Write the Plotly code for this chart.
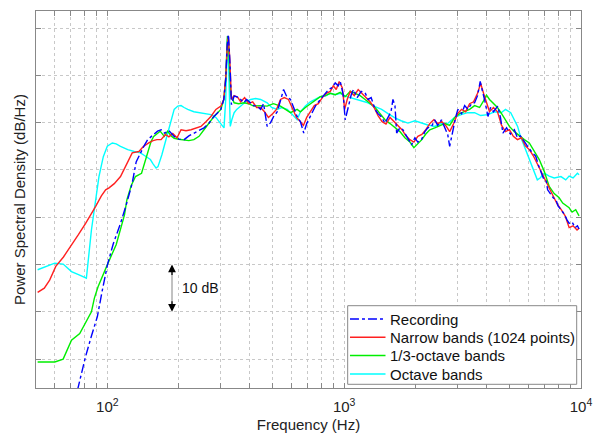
import plotly.graph_objects as go
import math

# ---------------- data (frequency in Hz, PSD in dB/Hz) ----------------
rec_f = [74.8, 80.9, 85.7, 90.8, 95.3, 100.3, 106, 113.7, 120.2, 127.4, 132.4, 138, 143, 148, 153.1,
         163, 168.7, 174.2, 182, 191.5, 200.5, 211, 221, 232, 244, 256, 268, 282, 292.6, 301.6,
         310.3, 316.2, 320.8, 324.6, 329, 334.3, 343.2, 351.9, 365.8, 376.5, 387.5, 402.9, 414.9,
         430, 443.9, 457, 473, 489, 504, 522, 538.7, 555, 570, 593.5, 612, 633, 653.8, 675, 695,
         720, 756, 793, 825, 860, 890, 917, 944, 963, 991, 1010, 1040, 1071, 1095, 1135, 1180,
         1226, 1262, 1300, 1351, 1390, 1432, 1488, 1532, 1577, 1607, 1639, 1666, 1720, 1771, 1805,
         1858, 1925, 1989, 2047, 2120, 2191, 2255, 2340, 2413, 2484, 2575, 2659, 2737, 2790, 2871,
         2955, 3021, 3133, 3226, 3332, 3452, 3554, 3658, 3754, 3838, 3915, 4048, 4150, 4270, 4450,
         4570, 4680, 4850, 5035, 5233, 5390, 5550, 5764, 5950, 6170, 6440, 6600, 6780, 6930, 7120,
         7230, 7420, 7630, 7840, 8000, 8230, 8490, 8740, 8910, 9170, 9450, 9660, 9813]
rec_db = [-86.6, -79.5, -75.1, -71.0, -65.4, -59.9, -55.6, -51.3, -47.4, -42.8, -38.3, -36.4, -34.9, -33.6, -33.0,
          -31.8, -31.5, -32.2, -31.7, -32.9, -33.5, -33.6, -32.8, -32.2, -31.7, -31.1, -30.2, -28.7, -27.9, -27.2,
          -25.1, -20.9, -13.5, -11.4, -16.7, -26.2, -24.4, -24.5, -25.1, -25.8, -25.1, -25.8, -26.4,
          -26.5, -27.2, -26.0, -30.8, -30.0, -28.7, -27.7, -25.1, -23.0, -24.3, -25.1, -26.8, -28.7, -29.8, -32.2, -30.2,
          -28.5, -26.5, -25.1, -24.0, -23.0, -22.6, -21.6, -22.2, -21.3, -24.1, -29.4, -26.8, -24.1, -23.0, -24.7, -23.4,
          -23.7, -25.1, -24.7, -27.2, -28.1, -28.7, -30.1, -28.9, -27.7, -25.1, -26.4, -32.2, -31.1, -31.5, -32.2,
          -33.2, -34.7, -33.2, -34.1, -33.6, -31.9, -31.1, -30.8, -29.4, -30.6, -29.4, -31.1, -32.5, -35.0, -31.9,
          -28.9, -27.2, -28.1, -26.4, -27.2, -26.0, -25.8, -24.3, -21.3, -23.4, -25.1, -28.7, -26.8, -27.7, -26.5,
          -28.9, -32.2, -31.1, -32.4, -31.5, -33.2, -32.8, -34.1, -35.0, -36.1, -37.1, -38.9, -40.7, -41.7, -42.1,
          -44.2, -45.0, -45.9, -46.3, -47.6, -48.4, -49.3, -50.6, -51.3, -51.0, -52.2, -51.8, -52.5]

nb_f = [50.8, 54.2, 57.1, 60.6, 65.3, 70.1, 75.5, 81, 85.7, 89.3, 94.4, 98.4, 101.7, 107, 113.7, 119,
        127.4, 136, 141.6, 149.6, 156, 162, 168.7, 176, 182, 189, 197, 204.8, 215, 225.6, 236.8, 248.5,
        260.8, 273.8, 287.4, 301.6, 310.3, 316.2, 321.5, 324.6, 329, 334.3, 343.2, 356, 365.8, 380, 395,
        411, 427, 443.9, 461, 479, 499, 518, 538.7, 559, 582, 605, 629, 653.8, 673, 695, 720, 748, 778,
        809, 841, 874, 900, 926, 953, 982, 1005, 1030, 1061, 1103, 1146, 1191, 1238, 1287, 1338, 1390,
        1446, 1502, 1562, 1623, 1687, 1754, 1823, 1895, 1970, 2047, 2128, 2212, 2299, 2390, 2484, 2582,
        2684, 2790, 2900, 3012, 3133, 3258, 3386, 3519, 3658, 3770, 3877, 3990, 4109, 4270, 4440, 4620,
        4800, 4986, 5180, 5390, 5600, 5820, 6050, 6290, 6530, 6800, 7070, 7341, 7630, 7930, 8250, 8570,
        8910, 9260, 9620, 9813]
nb_db = [-65.9, -65.0, -63.3, -60.4, -58.4, -56.2, -53.7, -51.3, -49.3, -47.7, -45.5, -44.2, -43.8, -42.9, -41.4, -39.5,
         -36.4, -36.1, -35.1, -34.3, -33.8, -33.6, -33.6, -32.5, -33.0, -32.3, -33.2, -31.5, -31.7, -31.5, -31.1, -30.8,
         -29.8, -28.7, -27.2, -26.5, -25.1, -20.5, -13.5, -11.8, -16.7, -25.1, -24.3, -24.7, -25.6, -24.7, -26.0,
         -25.6, -26.8, -26.8, -27.7, -28.9, -28.1, -27.2, -25.1, -24.7, -25.1, -27.2, -28.9, -29.8, -30.6, -28.9, -27.7, -26.4, -26.0,
         -24.7, -23.8, -23.4, -22.2, -23.0, -21.3, -22.6, -27.2, -25.1, -23.4, -24.3, -23.0, -23.8, -24.7, -25.6, -26.8, -28.5,
         -29.8, -30.3, -28.9, -29.8, -30.6, -31.5, -32.8, -33.6, -34.1, -32.9, -32.5, -31.5, -30.2, -29.4, -30.2, -29.8,
         -30.6, -31.9, -30.2, -28.1, -27.2, -27.7, -26.0, -25.6, -23.8, -21.7, -23.8, -26.0, -27.7, -26.8, -27.7, -30.6,
         -31.9, -31.5, -32.9, -33.6, -33.2, -34.9, -35.7, -37.0, -38.7, -40.3, -42.1, -43.8, -45.5, -47.2, -48.4, -49.7,
         -52.2, -51.8, -52.7, -52.3]

third_f = [50.8, 55.5, 60, 65.1, 67.3, 70.6, 76.5, 81.6, 85.7, 88.2, 91.4, 100.7, 109, 118.2, 121, 126.2,
           131.5, 139.5, 147.3, 153, 157, 163, 167.2, 174, 179.7, 185.9, 191.6, 200.5, 211, 221, 232, 244,
           256, 268, 282, 301.6, 310.3, 316.2, 321.5, 325.6, 332, 343.2, 358.6, 378, 395, 415, 443.9, 473,
           503, 538.7, 565, 593.5, 633, 653.8, 686, 720, 756, 793, 833, 874, 917, 963, 1010, 1061, 1113,
           1168, 1226, 1287, 1351, 1418, 1488, 1562, 1639, 1720, 1805, 1895, 1970, 2047, 2128, 2212, 2299,
           2413, 2533, 2659, 2790, 2929, 3074, 3226, 3386, 3554, 3730, 3877, 3990, 4109, 4270, 4440, 4620,
           4800, 4986, 5233, 5492, 5764, 6050, 6350, 6664, 6995, 7341, 7705, 8087, 8370, 8650, 8909, 9170,
           9500, 9813]
third_db = [-80.6, -80.6, -80.6, -80.0, -78.5, -76.0, -74.6, -72.1, -70.0, -67.1, -64.7, -59.7, -55.8, -49.5, -46.3, -43.3,
            -41.4, -40.7, -36.4, -34.0, -32.9, -32.2, -31.8, -32.9, -31.8, -32.8, -33.3, -33.5, -33.6, -33.8, -33.6, -32.9,
            -31.5, -30.2, -28.7, -27.2, -25.1, -20.5, -11.7, -14.4, -24.1, -25.8, -26.0, -25.8, -26.0, -26.5, -26.4, -26.5,
            -26.0, -26.5, -27.2, -27.9, -27.2, -27.7, -26.8, -26.0, -25.1, -24.5, -24.3, -23.8, -24.1, -23.6, -24.5, -23.4, -23.8,
            -24.3, -25.1, -26.0, -26.8, -28.1, -29.4, -30.2, -31.1, -31.9, -33.2, -34.1, -35.3, -34.5, -33.6, -32.4, -31.5,
            -31.1, -30.6, -30.2, -30.6, -28.9, -28.1, -27.7, -27.2, -26.4, -26.8, -25.4, -24.2, -25.1, -26.0, -26.8, -28.1,
            -29.4, -30.8, -31.9, -32.8, -33.6, -34.3, -36.1, -37.8, -40.3, -43.5, -45.0, -45.9, -47.0, -47.6, -48.0, -48.9,
            -48.4, -49.7]

oct_f = [50.8, 55.5, 60, 65.1, 70.6, 76, 81.6, 85.7, 88.4, 92.2, 96.2, 100, 105, 109, 113.7, 122, 130, 138,
         144, 152, 156, 160.7, 163.7, 170, 180, 185.9, 191.6, 198.5, 204.8, 211, 218.5, 232, 248.5, 260.8,
         273.8, 287.4, 301.6, 311, 316.2, 321.5, 325.6, 330.5, 335.6, 343.2, 351.9, 365.8, 383.9, 402.9, 423,
         443.9, 473, 494, 522, 545, 575, 600, 633, 653.8, 686, 720, 756, 793, 833, 874, 917, 963, 1010, 1061,
         1113, 1168, 1260, 1351, 1440, 1532, 1639, 1740, 1860, 1989, 2120, 2255, 2413, 2560, 2750, 2929, 3120,
         3320, 3554, 3770, 4048, 4312, 4600, 4800, 5050, 5233, 5400, 5550, 5764, 5930, 6200, 6350, 6540, 6720,
         6995, 7341, 7705, 8230, 8620, 8909, 9260, 9660, 9813]
oct_db = [-61.1, -60.3, -59.7, -59.9, -61.5, -62.2, -62.9, -52.7, -47.4, -41.4, -37.2, -35.0, -34.3, -34.5, -35.0, -35.7, -36.1, -36.4,
          -37.0, -37.8, -38.7, -39.6, -39.3, -36.8, -32.2, -29.4, -27.2, -26.5, -26.4, -26.8, -27.2, -27.7, -27.9, -28.1,
          -28.3, -28.9, -30.1, -31.1, -25.1, -12.4, -18.8, -30.8, -29.4, -27.9, -27.2, -26.5, -25.6, -25.1, -24.9,
          -25.1, -25.8, -26.8, -27.2, -26.8, -27.2, -28.1, -29.4, -27.7, -26.5, -25.6, -25.1, -24.5, -24.4, -23.8, -24.1, -23.8, -24.4, -24.7,
          -25.1, -25.4, -25.8, -26.6, -27.2, -28.1, -29.0, -29.6, -30.1, -29.6, -30.1, -30.5, -30.8, -30.2, -30.1, -28.9, -28.3,
          -27.9, -27.9, -28.5, -28.3, -27.7, -27.9, -27.2, -27.9, -29.4, -30.8, -32.9, -35.0, -37.0, -39.3, -40.8, -42.1, -41.7,
          -40.7, -41.3, -41.7, -41.4, -42.1, -41.3, -41.7, -40.7, -41.0]

series_names = ["Recording", "Narrow bands (1024 points)", "1/3-octave bands", "Octave bands"]
series_colors = ["#0000ff", "#ff2020", "#00ee00", "#00ffff"]
series_dash = ["dashdot", "solid", "solid", "solid"]
x_ticks = [50, 60, 70, 80, 90, 100, 200, 300, 400, 500, 600, 700, 800, 900,
           1000, 2000, 3000, 4000, 5000, 6000, 7000, 8000, 9000, 10000]
x_ticktext = ["10<sup>2</sup>" if v == 100 else "10<sup>3</sup>" if v == 1000 else
              "10<sup>4</sup>" if v == 10000 else "" for v in x_ticks]
y_ticks = [-80, -70, -60, -50, -40, -30, -20, -10]

FONT = "Liberation Sans, Arial, sans-serif"

# ---------------- figure ----------------
fig = go.Figure()
series = [(rec_f, rec_db), (nb_f, nb_db), (third_f, third_db), (oct_f, oct_db)]
for i in [3, 2, 1, 0]:  # draw recording on top
    fx, fy = series[i]
    fig.add_trace(go.Scatter(x=fx, y=fy, mode="lines", name=series_names[i], showlegend=False,
                             line=dict(color=series_colors[i], width=1.4, dash=series_dash[i])))

axis_common = dict(showline=True, linecolor="#888888", linewidth=1, mirror="ticks",
                   ticks="inside", tickcolor="#888888", ticklen=5, automargin=False,
                   showgrid=True, gridcolor="#c8c8c8", griddash="dot", gridwidth=1,
                   zeroline=False,
                   tickfont=dict(family=FONT, size=15, color="#222"),
                   title_font=dict(family=FONT, size=15, color="#222"))

fig.update_xaxes(type="log", range=[math.log10(50), 4], tickmode="array",
                 tickvals=x_ticks, ticktext=x_ticktext, ticklabelstandoff=5,
                 title_text="Frequency (Hz)", title_standoff=6, **axis_common)
fig.update_yaxes(range=[-86.1, -6.4], tickmode="array", tickvals=y_ticks,
                 showticklabels=False, title_text="Power Spectral Density (dB/Hz)",
                 title_standoff=5, **axis_common)

# 10 dB scale marker
xm = math.log10(187.6)
fig.add_shape(type="line", x0=187.6, x1=187.6, y0=-61.5, y1=-68.5, xref="x", yref="y",
              line=dict(color="#999999", width=1.2))
fig.add_annotation(x=xm, y=-60.0, ax=0, ay=12, xref="x", yref="y", text="", showarrow=True,
                   arrowhead=2, arrowsize=1.3, arrowwidth=1.2, arrowcolor="#000000")
fig.add_annotation(x=xm, y=-70.0, ax=0, ay=-12, xref="x", yref="y", text="", showarrow=True,
                   arrowhead=2, arrowsize=1.3, arrowwidth=1.2, arrowcolor="#000000")
fig.add_annotation(x=math.log10(203), y=-65.0, xref="x", yref="y", text="10 dB", showarrow=False,
                   xanchor="left", yanchor="middle",
                   font=dict(family=FONT, size=14, color="#111"))

# legend box (drawn in paper coordinates, lower right, MATLAB style)
fig.add_shape(type="rect", xref="paper", yref="paper", x0=0.5719, x1=0.9921, y0=0.0098, y1=0.2183,
              line=dict(color="#888888", width=1), fillcolor="white", layer="above")
leg_y = [0.1830, 0.1345, 0.0862, 0.0371]
for i in range(4):
    fig.add_shape(type="line", xref="paper", yref="paper", x0=0.5761, x1=0.6413,
                  y0=leg_y[i], y1=leg_y[i], layer="above",
                  line=dict(color=series_colors[i], width=1.4, dash=series_dash[i]))
    fig.add_annotation(x=0.6450, y=leg_y[i], xref="paper", yref="paper", text=series_names[i],
                       showarrow=False, xanchor="left", yanchor="middle",
                       font=dict(family=FONT, size=15, color="#111"))

fig.update_layout(
    width=595, height=433,
    margin=dict(l=36, r=14, t=11, b=45),
    paper_bgcolor="white", plot_bgcolor="white",
    showlegend=False,
)

fig.write_html("out.html")
